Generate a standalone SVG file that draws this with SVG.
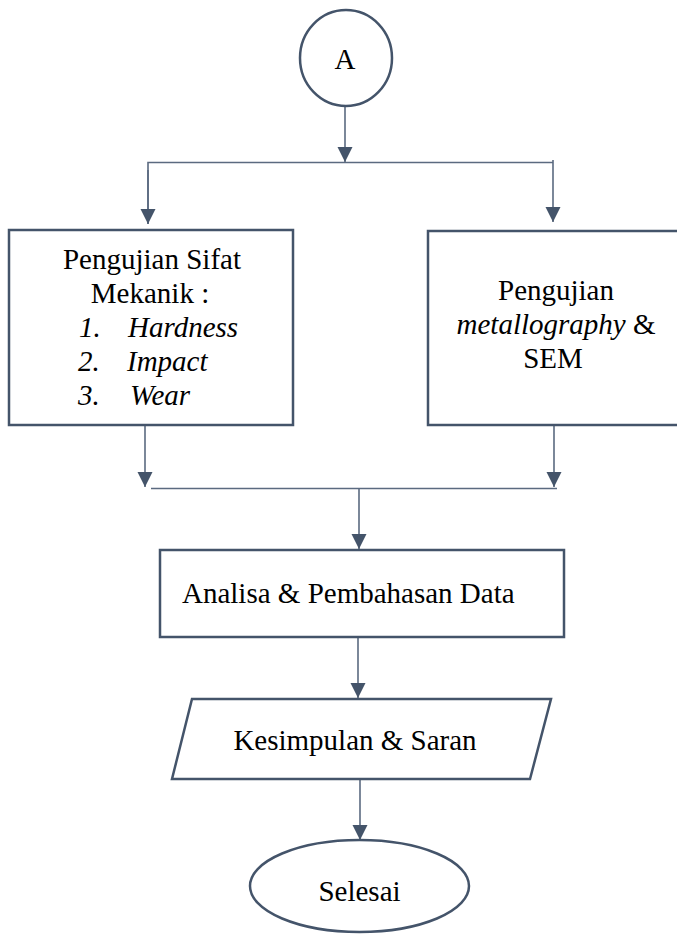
<svg xmlns="http://www.w3.org/2000/svg" width="677" height="936" viewBox="0 0 677 936">
  <style>
    .node { fill: #ffffff; stroke: #44546A; stroke-width: 2.5; }
    .conn { fill: none; stroke: #5B6A80; stroke-width: 1.6; }
    .t { font-family: "Liberation Serif", "Times New Roman", serif; font-size: 29px; fill: #000000; }
    .c { text-anchor: middle; }
    .i { font-style: italic; }
  </style>
  <defs>
    <marker id="arr" markerUnits="userSpaceOnUse" markerWidth="16" markerHeight="16" refX="15" refY="7.5" orient="auto">
      <path d="M0,0 L15,7.5 L0,15 z" fill="#44546A"/>
    </marker>
  </defs>
  <rect width="677" height="936" fill="#ffffff"/>

  <g id="connectors">
    <line class="conn" x1="345" y1="104" x2="345" y2="162" marker-end="url(#arr)"/>
    <polyline class="conn" points="148,224 148,162.5 553,162.5"/>
    <line class="conn" x1="148" y1="170" x2="148" y2="224" marker-end="url(#arr)"/>
    <line class="conn" x1="553" y1="160" x2="553" y2="222" marker-end="url(#arr)"/>
    <line class="conn" x1="145" y1="425" x2="145" y2="487" marker-end="url(#arr)"/>
    <line class="conn" x1="554" y1="425" x2="554" y2="487" marker-end="url(#arr)"/>
    <line class="conn" x1="151" y1="488.5" x2="557" y2="488.5"/>
    <line class="conn" x1="359" y1="488" x2="359" y2="549" marker-end="url(#arr)"/>
    <line class="conn" x1="358" y1="637" x2="358" y2="698" marker-end="url(#arr)"/>
    <line class="conn" x1="360" y1="779" x2="360" y2="840" marker-end="url(#arr)"/>
  </g>

  <g id="node-A">
    <ellipse class="node" cx="346" cy="58" rx="46" ry="48"/>
    <text class="t c" x="345" y="69">A</text>
  </g>

  <g id="node-mekanik">
    <rect class="node" x="9" y="230" width="284" height="195"/>
    <text class="t c" x="152" y="269">Pengujian Sifat</text>
    <text class="t c" x="150" y="303">Mekanik :</text>
    <text class="t i" x="79" y="337">1.</text>
    <text class="t i" x="128" y="337">Hardness</text>
    <text class="t i" x="78" y="371">2.</text>
    <text class="t i" x="127" y="371">Impact</text>
    <text class="t i" x="78" y="405">3.</text>
    <text class="t i" x="130" y="405">Wear</text>
  </g>

  <g id="node-metallography">
    <rect class="node" x="428" y="231" width="260" height="194"/>
    <text class="t c" x="556" y="300">Pengujian</text>
    <text class="t c" x="556" y="334"><tspan class="i">metallography</tspan> &amp;</text>
    <text class="t c" x="553" y="368">SEM</text>
  </g>

  <g id="node-analisa">
    <rect class="node" x="160" y="550" width="404" height="87"/>
    <text class="t" x="182" y="603">Analisa &amp; Pembahasan Data</text>
  </g>

  <g id="node-kesimpulan">
    <polygon class="node" points="192,699 551,699 530,779 172,779"/>
    <text class="t c" x="355" y="750">Kesimpulan &amp; Saran</text>
  </g>

  <g id="node-selesai">
    <ellipse class="node" cx="359.5" cy="886" rx="109.5" ry="46"/>
    <text class="t c" x="359.5" y="901">Selesai</text>
  </g>
</svg>
